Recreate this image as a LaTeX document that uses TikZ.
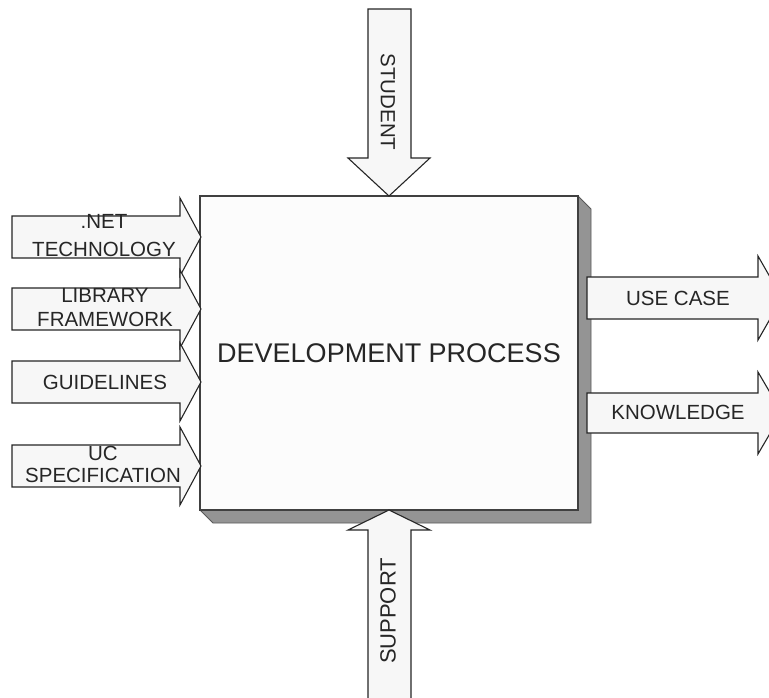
\documentclass[tikz,border=0pt]{standalone}
\usepackage{fontspec}
\setmainfont{Liberation Sans}
\begin{document}
\begin{tikzpicture}[x=1pt,y=-1pt,
  blockarrow/.style={draw=black!85, fill=black!3, line width=1.1pt, line join=miter},
  lbl/.style={font=\fontsize{20.5}{24}\selectfont, text=black!85, align=center, inner sep=0pt},
  shadowface/.style={fill=black!42, draw=black!65, line width=0.8pt},
  procbox/.style={draw=black!75, fill=black!1, line width=1.5pt, minimum width=378pt, minimum height=314pt, inner sep=0pt, font=\fontsize{27}{30}\selectfont, text=black!85}]
\useasboundingbox (0,0) rectangle (769,697);
\clip (0,0) rectangle (769,697);
\fill[white] (0,0) rectangle (769,697);

% 3D shadow of the process box
\draw[shadowface] (578,196) -- (591,209) -- (591,523) -- (213,523) -- (200,510) -- (578,510) -- cycle;
\node[procbox] (proc) at (389,353) {DEVELOPMENT PROCESS};

% left input arrows
\foreach \c in {237,309,382,466}{
  \draw[blockarrow] (12,\c-21) -- (180,\c-21) -- (180,\c-39) -- (201,\c) -- (180,\c+39) -- (180,\c+21) -- (12,\c+21) -- cycle;
}
\node[lbl] (net) at (104,236) {.NET\\[4pt]TECHNOLOGY};
\node[lbl] (lib) at (105,308) {LIBRARY\\FRAMEWORK};
\node[lbl] (guide) at (105,382) {GUIDELINES};
\node[lbl, font=\fontsize{20.5}{22}\selectfont] (uc) at (103,464) {UC\\SPECIFICATION};

% top arrow
\draw[blockarrow] (368,9) -- (411,9) -- (411,158) -- (430,158) -- (389,196) -- (348,158) -- (368,158) -- cycle;
\node[lbl, rotate=-90] (student) at (388,102) {STUDENT};

% bottom arrow
\draw[blockarrow] (368,712) -- (368,530) -- (348,530) -- (389,510) -- (430,530) -- (411,530) -- (411,712) -- cycle;
\node[lbl, rotate=90, font=\fontsize{22}{24}\selectfont] (support) at (388,611) {SUPPORT};

% right output arrows
\draw[blockarrow] (587,277) -- (758,277) -- (758,256) -- (782,298) -- (758,340) -- (758,319) -- (587,319) -- cycle;
\node[lbl] (usecase) at (678,298) {USE CASE};
\draw[blockarrow] (587,393) -- (758,393) -- (758,372) -- (782,413) -- (758,454) -- (758,433) -- (587,433) -- cycle;
\node[lbl] (know) at (678,412) {KNOWLEDGE};
\end{tikzpicture}
\end{document}
